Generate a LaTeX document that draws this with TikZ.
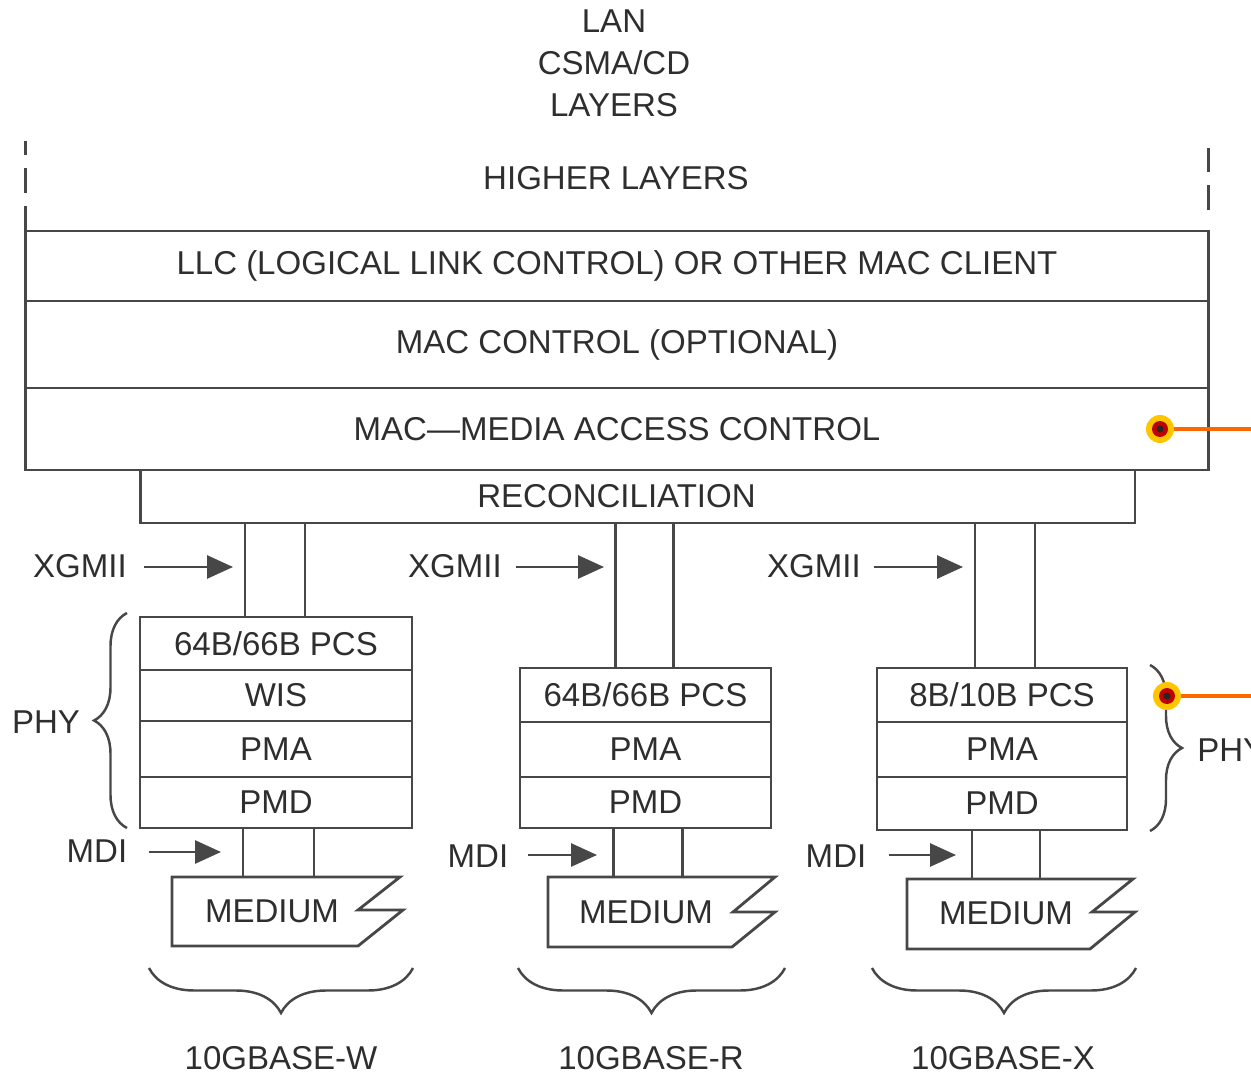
\documentclass[tikz,border=0pt]{standalone}
\usepackage{fontspec}
\setmainfont{Liberation Sans}
\usetikzlibrary{arrows.meta,decorations.pathreplacing,positioning}

\tikzset{
  ln/.style={draw=black!72, line width=1.6pt},
  lbl/.style={text=black!82, font=\fontsize{18.8}{24}\selectfont, inner sep=0pt},
  blk/.style={ln, lbl, outer sep=0pt},
  arr/.style={ln, -{Triangle[length=0.52cm,width=0.46cm]}},
  brc/.style={ln, line width=1.4pt, decorate, decoration={brace, amplitude=#1}},
  hot/.style={draw=orange!80!red, line width=2.8pt},
  marker/.style={circle, inner sep=0pt, minimum size=0.56cm, fill=orange!45!yellow,
    path picture={\fill[red!75!black] (path picture bounding box.center) circle (0.16cm);
      \fill[black!85] (path picture bounding box.center) circle (0.07cm);}}
}

\begin{document}
\begin{tikzpicture}[x=0.02cm, y=-0.02cm]
\useasboundingbox (0,0) rectangle (1251,1074);

% title and higher layers
\node[lbl, align=center] (title) at (614,63) {LAN\\CSMA/CD\\LAYERS};
\node[lbl] (higher) at (616,178) {HIGHER LAYERS};

% data link layers
\node[blk, minimum width=23.68cm, minimum height=1.4cm] (llc) at (617,266) {LLC (LOGICAL LINK CONTROL) OR OTHER MAC CLIENT};
\node[blk, minimum width=23.68cm, minimum height=1.74cm, below=0pt of llc] (macctl) {MAC CONTROL (OPTIONAL)};
\node[blk, minimum width=23.68cm, minimum height=1.64cm, below=0pt of macctl] (mac) {MAC---MEDIA ACCESS CONTROL};
\node[blk, minimum width=19.9cm, minimum height=1.06cm, below=0pt of mac, xshift=0.41cm] (recon) {\hspace*{-0.84cm}RECONCILIATION};
\draw[ln, dash pattern=on 0.5cm off 0.26cm] (llc.north west) -- ++(0,-90);
\draw[ln, dash pattern=on 0.5cm off 0.26cm] (llc.north east) ++(0,-21) -- ++(0,-62);

% 10GBASE-W stack
\node[blk, minimum width=5.44cm, minimum height=1.06cm] (pcsW) at (276,643.5) {64B/66B PCS};
\node[blk, minimum width=5.44cm, minimum height=1.02cm, below=0pt of pcsW] (wis) {WIS};
\node[blk, minimum width=5.44cm, minimum height=1.12cm, below=0pt of wis] (pmaW) {PMA};
\node[blk, minimum width=5.44cm, minimum height=1.02cm, below=0pt of pmaW] (pmdW) {PMD};

% 10GBASE-R stack
\node[blk, minimum width=5.02cm, minimum height=1.08cm] (pcsR) at (645.5,695) {64B/66B PCS};
\node[blk, minimum width=5.02cm, minimum height=1.1cm, below=0pt of pcsR] (pmaR) {PMA};
\node[blk, minimum width=5.02cm, minimum height=1.02cm, below=0pt of pmaR] (pmdR) {PMD};

% 10GBASE-X stack
\node[blk, minimum width=5cm, minimum height=1.08cm] (pcsX) at (1002,695) {8B/10B PCS};
\node[blk, minimum width=5cm, minimum height=1.1cm, below=0pt of pcsX] (pmaX) {PMA};
\node[blk, minimum width=5cm, minimum height=1.06cm, below=0pt of pmaX] (pmdX) {PMD};

% XGMII
\draw[ln] (pcsW.north) ++(-31,0) coordinate (t) -- (t |- recon.south);
\draw[ln] (pcsW.north) ++(29,0) coordinate (t) -- (t |- recon.south);
\draw[ln] (pcsR.north) ++(-30,0) coordinate (t) -- (t |- recon.south);
\draw[ln] (pcsR.north) ++(28,0) coordinate (t) -- (t |- recon.south);
\draw[ln] (pcsX.north) ++(-27,0) coordinate (t) -- (t |- recon.south);
\draw[ln] (pcsX.north) ++(33,0) coordinate (t) -- (t |- recon.south);
\node[lbl] (xgW) at (80,566) {XGMII};
\node[lbl] (xgR) at (455,566) {XGMII};
\node[lbl] (xgX) at (814,566) {XGMII};
\coordinate (xgWtip) at (233,567); \coordinate (xgRtip) at (604,567); \coordinate (xgXtip) at (963,567);
\draw[arr] (xgW.east |- xgWtip) ++(17,0) -- (xgWtip);
\draw[arr] (xgR.east |- xgRtip) ++(14,0) -- (xgRtip);
\draw[arr] (xgX.east |- xgXtip) ++(13,0) -- (xgXtip);

% media
\node[lbl] (medW) at (272,911) {MEDIUM};
\node[lbl] (medR) at (646,912) {MEDIUM};
\node[lbl] (medX) at (1006,913) {MEDIUM};
\coordinate (medWtop) at (172,877); \coordinate (medRtop) at (548,877); \coordinate (medXtop) at (907,879);
\draw[ln] (medWtop) -- (400,877) -- (358,910) -- (403,910) -- (358,946) -- (172,946) -- cycle;
\draw[ln] (medRtop) -- (775,877) -- (733,912) -- (775,912) -- (732,947) -- (548,947) -- cycle;
\draw[ln] (medXtop) -- (1133,879) -- (1092,912) -- (1135,912) -- (1090,949) -- (907,949) -- cycle;

% MDI
\draw[ln] (pmdW.south) ++(-33,0) coordinate (t) -- (t |- medWtop);
\draw[ln] (pmdW.south) ++(38,0) coordinate (t) -- (t |- medWtop);
\draw[ln] (pmdR.south) ++(-32,0) coordinate (t) -- (t |- medRtop);
\draw[ln] (pmdR.south) ++(37,0) coordinate (t) -- (t |- medRtop);
\draw[ln] (pmdX.south) ++(-30,0) coordinate (t) -- (t |- medXtop);
\draw[ln] (pmdX.south) ++(38,0) coordinate (t) -- (t |- medXtop);
\node[lbl] (mdiW) at (97,851) {MDI};
\node[lbl] (mdiR) at (478,856) {MDI};
\node[lbl] (mdiX) at (836,856) {MDI};
\coordinate (mdiWtip) at (221,852); \coordinate (mdiRtip) at (597,855); \coordinate (mdiXtip) at (956,855);
\draw[arr] (mdiW.east |- mdiWtip) ++(21,0) -- (mdiWtip);
\draw[arr] (mdiR.east |- mdiRtip) ++(19,0) -- (mdiRtip);
\draw[arr] (mdiX.east |- mdiXtip) ++(22,0) -- (mdiXtip);

% PHY braces
\draw[brc=0.66cm] (127,828) -- (127,613);
\node[lbl] (phyL) at (46,722) {PHY};
\draw[brc=0.64cm] (1150,665) -- (1150,831);
\node[lbl, anchor=west] (phyR) at (1197,750) {PHY};

% port braces
\draw[brc=0.9cm] (413,968) -- (149,968);
\draw[brc=0.9cm] (785,968) -- (518,968);
\draw[brc=0.9cm] (1136,968) -- (872,968);
\node[lbl] (baseW) at (281,1058) {10GBASE-W};
\node[lbl] (baseR) at (651,1058) {10GBASE-R};
\node[lbl] (baseX) at (1003,1058) {10GBASE-X};

% markers
\node[marker] (dotA) at (1160,429) {};
\node[marker] (dotB) at (1167,696) {};
\coordinate (edgeA) at (1260,429); \coordinate (edgeB) at (1260,696);
\draw[hot] (dotA) -- (edgeA);
\draw[hot] (dotB) -- (edgeB);
\end{tikzpicture}
\end{document}
